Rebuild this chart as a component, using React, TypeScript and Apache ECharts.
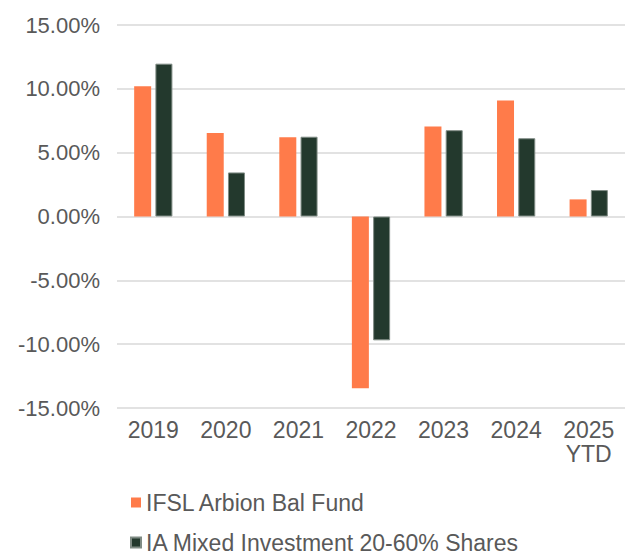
import React, { useEffect, useRef } from "react";
import * as echarts from "echarts";

const categories = ["2019", "2020", "2021", "2022", "2023", "2024", "2025\nYTD"];
const fundName = "IFSL Arbion Bal Fund";
const sectorName = "IA Mixed Investment 20-60% Shares";
const fundValues = [10.2, 6.55, 6.2, -13.45, 7.05, 9.08, 1.34];
const sectorValues = [11.97, 3.45, 6.25, -9.7, 6.76, 6.13, 2.07];
const yMin = -15;
const yMax = 15;
const yStep = 5;

export default function App() {
  const ref = useRef<HTMLDivElement>(null);
  useEffect(() => {
    if (!ref.current) return;
    const chart = echarts.init(ref.current, undefined, { renderer: "svg" });
    const font = "Liberation Sans, Arial, Helvetica, sans-serif";
    chart.setOption({
      animation: false,
      backgroundColor: "#ffffff",
      grid: { left: 117, right: 9, top: 25, bottom: 145, containLabel: false },
      legend: {
        orient: "vertical",
        left: 130,
        top: 491,
        height: 120,
        padding: 0,
        icon: "rect",
        itemWidth: 10,
        itemHeight: 10,
        itemGap: 17,
        textStyle: { fontFamily: font, fontSize: 23, color: "#595959", lineHeight: 23 },
        data: [fundName, sectorName],
      },
      xAxis: {
        type: "category",
        data: categories,
        axisLine: { show: false },
        axisTick: { show: false },
        axisLabel: {
          fontFamily: font,
          fontSize: 23,
          color: "#595959",
          margin: 10,
          lineHeight: 24,
          interval: 0,
        },
      },
      yAxis: {
        type: "value",
        min: yMin,
        max: yMax,
        interval: yStep,
        axisLine: { show: false },
        axisTick: { show: false },
        splitLine: { lineStyle: { color: "#d9d9d9", width: 1.5 } },
        axisLabel: {
          fontFamily: font,
          fontSize: 22,
          color: "#595959",
          margin: 17,
          formatter: (v: number) => v.toFixed(2) + "%",
        },
      },
      series: [
        {
          name: fundName,
          type: "bar",
          data: fundValues,
          barWidth: 17,
          barGap: "25%",
          itemStyle: { color: "#ff7b4a" },
        },
        {
          name: sectorName,
          type: "bar",
          data: sectorValues,
          barWidth: 17,
          barGap: "25%",
          itemStyle: { color: "#23392d", borderColor: "#7f8b84", borderWidth: 1 },
        },
      ],
    });
    return () => chart.dispose();
  }, []);
  return <div ref={ref} style={{ width: 634, height: 553, position: "absolute", left: 0, top: 0 }} />;
}
